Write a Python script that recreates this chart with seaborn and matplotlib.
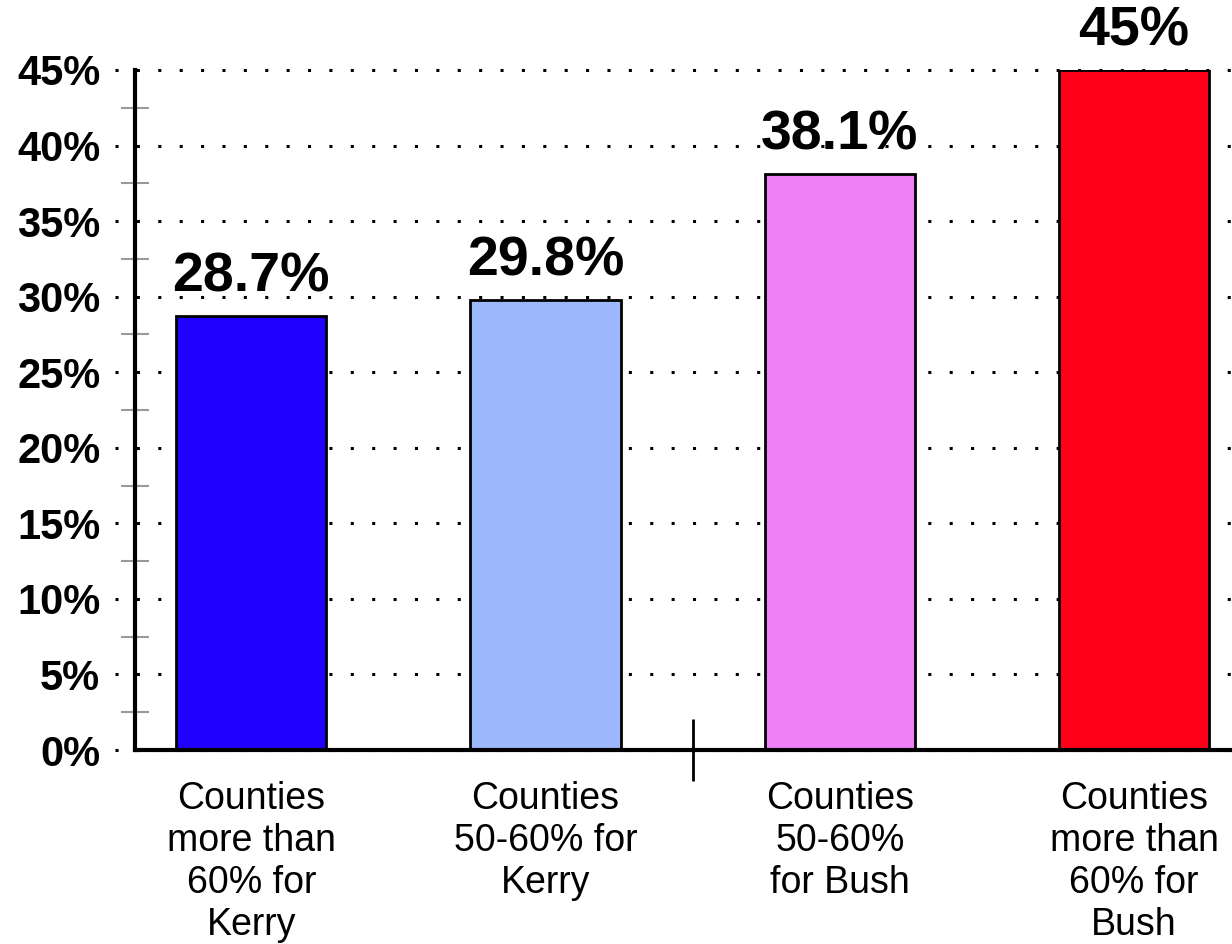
import matplotlib
matplotlib.use("Agg")
import matplotlib.pyplot as plt
import seaborn as sns
import pandas as pd

categories = ["Counties\nmore than\n60% for\nKerry",
              "Counties\n50-60% for\nKerry",
              "Counties\n50-60%\nfor Bush",
              "Counties\nmore than\n60% for\nBush"]
values = [28.7, 29.8, 38.1, 45.0]
value_labels = ["28.7%", "29.8%", "38.1%", "45%"]
bar_colors = ["#2000FF", "#9DB8FD", "#F080F8", "#FF0018"]
y_ticks = [0, 5, 10, 15, 20, 25, 30, 35, 40, 45]

sns.set_style("white")
plt.rcParams['font.family'] = ['Liberation Sans', 'DejaVu Sans']
plt.rcParams['text.color'] = 'black'
plt.rcParams['xtick.color'] = 'black'
plt.rcParams['ytick.color'] = 'black'
plt.rcParams['xtick.labelcolor'] = 'black'
plt.rcParams['ytick.labelcolor'] = 'black'

df = pd.DataFrame({"group": categories, "share": values})

fig = plt.figure(figsize=(12.32, 9.44), dpi=100)
ax = fig.add_axes([135 / 1232, 194 / 944, 1 - 135 / 1232, 680 / 944])

sns.barplot(data=df, x="group", y="share", hue="group", palette=bar_colors,
            width=0.51, edgecolor="black", linewidth=2, saturation=1,
            legend=False, ax=ax, zorder=3)

# dotted horizontal grid, running a bit left of the axis line
for t in y_ticks:
    ax.axhline(t, xmin=-0.018, xmax=1, color="black", linestyle=(0, (1, 6)),
               linewidth=2.2, clip_on=False, zorder=1)

ax.set_xlim(-0.395, 3.333)
ax.set_ylim(0, 45)
ax.set_yticks(y_ticks)
ax.set_yticklabels([f"{t}%" for t in y_ticks], fontsize=30, fontweight="bold",
                   color="black")
ax.set_yticks([t + 2.5 for t in y_ticks[:-1]], minor=True)
ax.tick_params(axis="y", which="major", left=True, length=0, pad=25)
ax.tick_params(axis="y", which="minor", left=True, length=20, width=1.5,
               color="#999999", direction="inout")

ax.set_xticks(range(len(categories)))
ax.set_xticklabels(categories, fontsize=27, linespacing=1.22, color="black")
ax.tick_params(axis="x", which="major", bottom=True, length=0, pad=22)
ax.set_xticks([1.5], minor=True)
ax.tick_params(axis="x", which="minor", bottom=True, length=44, width=2,
               color="black", direction="inout")

ax.set_xlabel("")
ax.set_ylabel("")

for s in ["top", "right"]:
    ax.spines[s].set_visible(False)
for s in ["left", "bottom"]:
    ax.spines[s].set_color("black")
    ax.spines[s].set_linewidth(3)
    ax.spines[s].set_zorder(4)

for i, (v, lab) in enumerate(zip(values, value_labels)):
    ax.annotate(lab, (i, v), xytext=(0, 9), textcoords="offset points",
                ha="center", va="bottom", fontsize=40, fontweight="bold",
                color="black", annotation_clip=False)

fig.savefig("out.png", dpi=100)
